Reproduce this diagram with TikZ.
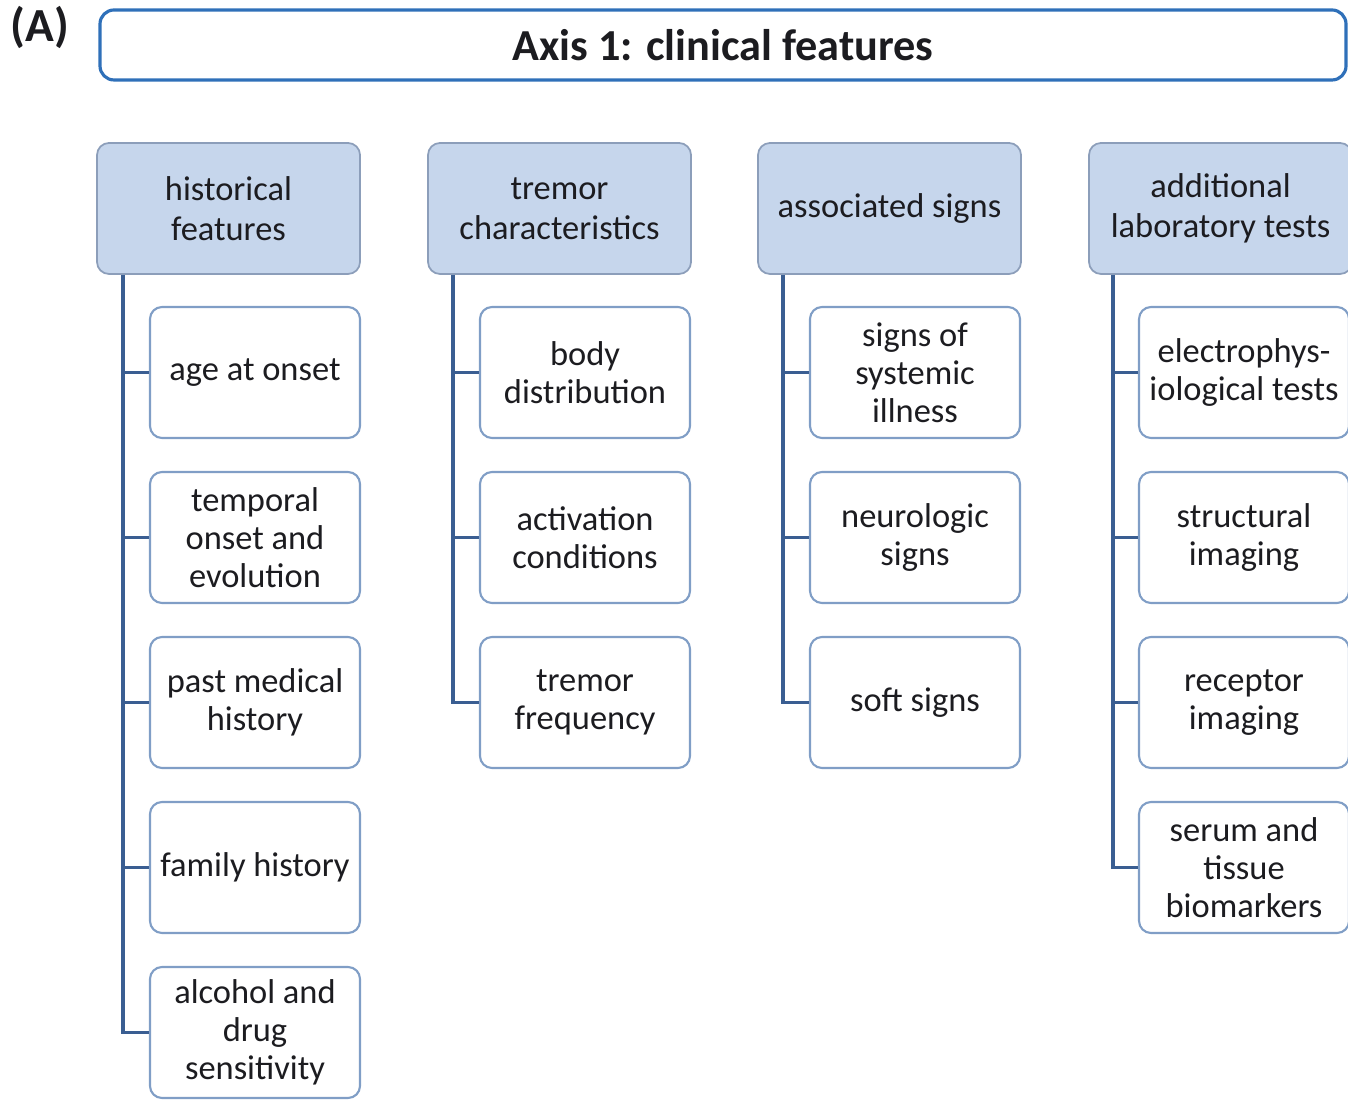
\documentclass[tikz,border=0pt]{standalone}
\usepackage{fontspec}
\setmainfont{Carlito}
\usetikzlibrary{positioning,calc}

\definecolor{titleblue}{RGB}{47,112,185}
\definecolor{headfill}{RGB}{198,214,236}
\definecolor{headline}{RGB}{140,158,186}
\definecolor{itemline}{RGB}{128,158,198}
\definecolor{trunkblue}{RGB}{58,94,146}
\definecolor{textgray}{RGB}{28,28,32}

\begin{document}
\begin{tikzpicture}[x=0.1mm, y=-0.1mm, font=\fontsize{9.8}{10.8}\selectfont, text=textgray,
	title/.style={draw=titleblue, line width=0.9pt, rounded corners=1.4mm, minimum width=124.6mm, minimum height=7mm, font=\fontsize{12.6}{14}\selectfont\bfseries},
	head/.style={draw=headline, fill=headfill, rounded corners=1.2mm, minimum width=26.3mm, minimum height=13.1mm, align=center, inner sep=0pt, line width=0.5pt, font=\fontsize{9.8}{11.4}\selectfont},
	item/.style={draw=itemline, fill=white, rounded corners=1.2mm, minimum width=21mm, minimum height=13.1mm, align=center, inner sep=0pt, line width=0.6pt},
	trunk/.style={draw=trunkblue, line width=1.1pt}]
	\useasboundingbox (0,0) rectangle (1348,1103);

	\node[font=\fontsize{13.5}{15}\selectfont\bfseries] (lbl) at (40,28) {(A)};
	\node[title] (axis) at (723,45) {Axis 1: clinical features};

	% headers
	\node[head] (h1) at (228.5,208.5) {historical\\features};
	\node[head] (h2) at (559.5,208.5) {tremor\\characteristics};
	\node[head] (h3) at (889.5,208.5) {associated signs};
	\node[head] (h4) at (1220.5,208.5) {additional\\laboratory tests};

	% boxes under each header
	\foreach \txt [count=\i] in {age at onset, {temporal\\onset and\\evolution}, {past medical\\history}, family history, {alcohol and\\drug\\sensitivity}}
		\node[item] (c1-\i) at (255,{372.5+165*(\i-1)}) {\txt};
	\foreach \txt [count=\i] in {{body\\distribution}, {activation\\conditions}, {tremor\\frequency}}
		\node[item] (c2-\i) at (585,{372.5+165*(\i-1)}) {\txt};
	\foreach \txt [count=\i] in {{signs of\\systemic\\illness}, {neurologic\\signs}, soft signs}
		\node[item] (c3-\i) at (915,{372.5+165*(\i-1)}) {\txt};
	\foreach \txt [count=\i] in {{electrophys-\\iological tests}, {structural\\imaging}, {receptor\\imaging}, {serum and\\tissue\\biomarkers}}
		\node[item] (c4-\i) at (1244,{372.5+165*(\i-1)}) {\txt};

	% trunks
	\coordinate (t1) at ($(h1.south west)+(27,0)$);
	\coordinate (t2) at ($(h2.south west)+(26,0)$);
	\coordinate (t3) at ($(h3.south west)+(26,0)$);
	\coordinate (t4) at ($(h4.south west)+(25,0)$);
	\draw[trunk] (t1) |- (c1-5.west);
	\draw[trunk] (t2) |- (c2-3.west);
	\draw[trunk] (t3) |- (c3-3.west);
	\draw[trunk] (t4) |- (c4-4.west);
	\foreach \i in {1,...,4} \draw[trunk] (c1-\i.west) -- (c1-\i.west -| t1);
	\foreach \i in {1,2} \draw[trunk] (c2-\i.west) -- (c2-\i.west -| t2);
	\foreach \i in {1,2} \draw[trunk] (c3-\i.west) -- (c3-\i.west -| t3);
	\foreach \i in {1,...,3} \draw[trunk] (c4-\i.west) -- (c4-\i.west -| t4);
\end{tikzpicture}
\end{document}
